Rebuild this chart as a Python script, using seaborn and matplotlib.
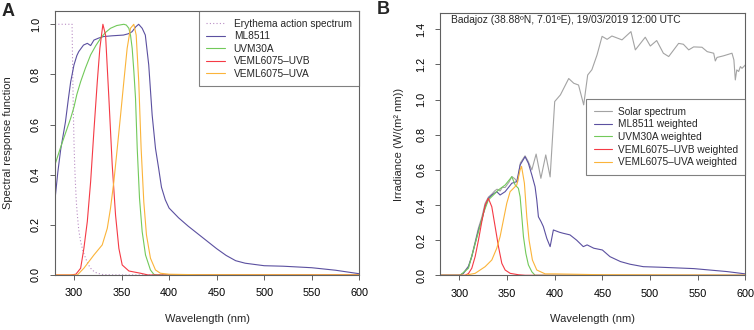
import numpy as np
import pandas as pd
import seaborn as sns
import matplotlib.pyplot as plt

# ---------------------
# Data
# ---------------------
# Panel A: spectral response functions
ery_wl = [280, 298, 298.6, 299.3, 300, 300.8, 301.7, 302.5, 303.5, 305, 307, 309.5,
          312.2, 315, 317.5, 321, 324.5, 330, 340, 400]
ery_val = [1.0, 1.0, 0.82, 0.66, 0.53, 0.43, 0.35, 0.29, 0.24, 0.18, 0.133, 0.095,
           0.067, 0.042, 0.027, 0.014, 0.007, 0.002, 0.0005, 0.0]

ml_wl = [280, 283, 286, 291, 294, 296.5, 300, 303, 305, 310, 314, 317.5, 321, 326, 331,
         340, 352, 357, 361, 365, 368, 371.7, 375, 378.6, 382.2, 385.7, 389, 392, 396,
         400, 410, 420, 425, 430, 440, 450, 460, 470, 480, 500, 520, 550, 575, 600]
ml_val = [0.30, 0.41, 0.50, 0.61, 0.70, 0.77, 0.838, 0.875, 0.891, 0.917, 0.924, 0.915,
          0.937, 0.945, 0.951, 0.954, 0.957, 0.962, 0.97, 0.99, 1.0, 0.984, 0.957, 0.838,
          0.638, 0.505, 0.426, 0.35, 0.30, 0.267, 0.228, 0.195, 0.18, 0.165, 0.135, 0.105,
          0.078, 0.057, 0.047, 0.037, 0.035, 0.029, 0.019, 0.005]

uvm_wl = [280, 286, 291, 296.5, 300, 303, 307, 312, 317.5, 323, 328, 333, 338.4, 345,
          352.4, 355, 357.7, 359.5, 361.2, 363, 364.7, 366.5, 368.9, 371.7, 375.2, 380.4,
          383.9, 386, 600]
uvm_val = [0.44, 0.51, 0.565, 0.625, 0.67, 0.72, 0.771, 0.825, 0.878, 0.915, 0.944, 0.967,
           0.984, 0.995, 1.0, 0.997, 0.984, 0.955, 0.904, 0.81, 0.705, 0.505, 0.306, 0.173,
           0.08, 0.02, 0.003, 0.0, 0.0]

uvb_wl = [280, 296, 302, 307, 310.4, 314, 317.5, 320.9, 324.5, 327.2, 330.4, 333.2, 336.7,
          340.2, 343.7, 347.2, 350.7, 357.7, 369.9, 378, 600]
uvb_val = [0.0, 0.0, 0.003, 0.027, 0.106, 0.213, 0.372, 0.572, 0.771, 0.904, 1.0, 0.957,
           0.705, 0.439, 0.239, 0.106, 0.04, 0.016, 0.007, 0.0, 0.0]

uva_wl = [280, 303.5, 310.4, 321, 329.7, 335, 338.4, 341.9, 345.5, 349, 352.4, 355.9,
          359.4, 362.9, 365.4, 368.1, 370.6, 373.4, 376.2, 380.4, 385.7, 390.9, 400, 430, 600]
uva_val = [0.0, 0.0, 0.027, 0.08, 0.12, 0.186, 0.266, 0.372, 0.505, 0.638, 0.771, 0.904,
           0.984, 1.0, 0.957, 0.771, 0.505, 0.292, 0.16, 0.067, 0.02, 0.007, 0.003, 0.001, 0.0]

# Panel B: solar spectrum and weighted irradiance
sol_wl = [280, 300, 304, 309.5, 313, 316.5, 320, 323.5, 327, 330.4, 334, 337, 339.5, 342.7,
          345, 348, 352, 355, 358, 361, 364, 368.9, 372, 376, 380.5, 385.5, 390.6, 395.2,
          400, 406, 414.7, 420, 425, 430.4, 434.6, 439, 444.4, 449.7, 455, 460, 470.6, 480,
          484.6, 495, 500.3, 507, 514, 519.6, 530, 535, 540.6, 545.8, 554.5, 560, 566.8,
          568.5, 570.3, 577, 586, 588, 589.5, 591, 593, 594.8, 596.5, 600]
sol_val = [0.0, 0.0, 0.012, 0.052, 0.11, 0.19, 0.27, 0.33, 0.41, 0.445, 0.462, 0.48, 0.49,
           0.48, 0.50, 0.50, 0.53, 0.562, 0.55, 0.53, 0.64, 0.68, 0.65, 0.60, 0.69, 0.552,
           0.685, 0.56, 0.989, 1.027, 1.12, 1.093, 1.083, 0.97, 1.14, 1.17, 1.254, 1.36,
           1.343, 1.362, 1.34, 1.387, 1.283, 1.355, 1.305, 1.336, 1.264, 1.245, 1.32, 1.315,
           1.283, 1.30, 1.298, 1.273, 1.264, 1.22, 1.24, 1.249, 1.264, 1.226, 1.112, 1.169,
           1.16, 1.188, 1.178, 1.197]

mlw_wl = [280, 300.7, 304.2, 309.5, 313, 316.5, 320, 323.5, 327, 330.4, 334, 339.2, 342.7,
          348, 355, 360.2, 363.7, 368.9, 372.4, 376, 379.4, 381.2, 382.9, 385.7, 388.1,
          391.7, 395.2, 398.6, 405, 409, 416, 423, 430, 434, 441, 450, 458, 469, 479, 493,
          510, 546, 581, 600]
mlw_val = [0.0, 0.0, 0.011, 0.049, 0.106, 0.182, 0.258, 0.315, 0.39, 0.438, 0.457, 0.476,
           0.457, 0.476, 0.524, 0.533, 0.628, 0.675, 0.637, 0.571, 0.504, 0.428, 0.333,
           0.305, 0.277, 0.21, 0.163, 0.258, 0.245, 0.239, 0.23, 0.2, 0.163, 0.173, 0.154,
           0.144, 0.106, 0.078, 0.063, 0.049, 0.046, 0.038, 0.021, 0.008]

uvmw_wl = [280, 300.7, 309.5, 314.7, 320, 325.2, 330.4, 335.7, 341, 348, 355, 358.5,
           361.9, 363.7, 365.5, 367.2, 369.7, 372.4, 376, 379.4, 600]
uvmw_val = [0.0, 0.0, 0.04, 0.144, 0.248, 0.353, 0.429, 0.457, 0.486, 0.514, 0.561, 0.514,
            0.495, 0.447, 0.333, 0.22, 0.125, 0.059, 0.02, 0.0, 0.0]

uvbw_wl = [280, 306, 309.5, 313, 316.5, 320, 323.5, 327, 330.4, 334, 337.5, 341, 344.5,
           348, 353.3, 362, 369, 600]
uvbw_val = [0.0, 0.0, 0.01, 0.04, 0.106, 0.2, 0.305, 0.4, 0.438, 0.39, 0.277, 0.163, 0.068,
            0.03, 0.011, 0.003, 0.0, 0.0]

uvaw_wl = [280, 306, 316.5, 327, 334, 339.2, 342.7, 346.2, 349.7, 353.2, 356.7, 360.2,
           363.7, 365.2, 368.2, 370.7, 373.1, 376.6, 381.2, 390, 400, 450, 600]
uvaw_val = [0.0, 0.0, 0.011, 0.049, 0.087, 0.154, 0.22, 0.315, 0.41, 0.476, 0.495, 0.514,
            0.6, 0.62, 0.524, 0.333, 0.2, 0.087, 0.03, 0.008, 0.008, 0.003, 0.0]

labels_a = ['Erythema action spectrum', 'ML8511', 'UVM30A', 'VEML6075–UVB', 'VEML6075–UVA']
labels_b = ['Solar spectrum', 'ML8511 weighted', 'UVM30A weighted',
            'VEML6075–UVB weighted', 'VEML6075–UVA weighted']
x_ticks = [300, 350, 400, 450, 500, 550, 600]
y_ticks_a = [0.0, 0.2, 0.4, 0.6, 0.8, 1.0]
y_ticks_b = [0.0, 0.2, 0.4, 0.6, 0.8, 1.0, 1.2, 1.4]
note_b = 'Badajoz (38.88ºN, 7.01ºE), 19/03/2019 12:00 UTC'

# ---------------------
# Style
# ---------------------
sns.set_theme(style="ticks")
plt.rcParams['font.family'] = ['Liberation Sans', 'DejaVu Sans']
plt.rcParams['xtick.labelsize'] = 7.8
plt.rcParams['ytick.labelsize'] = 7.8
plt.rcParams['axes.labelsize'] = 8
plt.rcParams['legend.fontsize'] = 7.3

c_ery = '#b98dc4'
c_ml = '#5b50a0'
c_uvm = '#72c95a'
c_uvb = '#f53a45'
c_uva = '#fbb43a'
c_sol = '#a3a3a3'
c_box = '#606060'


def line(ax, wl, val, color, label, ls='-'):
    """Draw one spectrum as a thin line"""
    sns.lineplot(x=wl, y=val, ax=ax, color=color, lw=0.8, linestyle=ls,
                 label=label, sort=False, estimator=None)


def style_axes(ax, yticks, ymax, ylabel, ypad):
    """R base-graphics look: full box, outward ticks, rotated y labels"""
    ax.set_xlim(280, 600)
    ax.set_ylim(0, ymax)
    ax.set_xticks(x_ticks)
    ax.set_yticks(yticks)
    ax.set_yticklabels([f'{v:.1f}' for v in yticks], rotation=90, va='center')
    for s in ax.spines.values():
        s.set_color(c_box)
        s.set_linewidth(0.8)
    ax.tick_params(direction='out', length=3.6, width=0.7, color=c_box,
                   labelcolor='black')
    ax.tick_params(axis='x', pad=6)
    ax.tick_params(axis='y', pad=6.5)
    ax.set_xlabel('Wavelength (nm)', labelpad=11)
    ax.set_ylabel(ylabel, labelpad=ypad)


def style_legend(leg):
    """Square grey frame like R legend()"""
    leg.get_frame().set_edgecolor(c_box)
    leg.get_frame().set_linewidth(0.8)


fig = plt.figure(figsize=(7.54, 3.30), dpi=100)
ax_a = fig.add_axes([0.0729, 0.1667, 0.4036, 0.80])
ax_b = fig.add_axes([0.5840, 0.1658, 0.4045, 0.7957])

# ---------------------
# Panel A
# ---------------------
line(ax_a, ery_wl, ery_val, c_ery, labels_a[0], ls=(0, (1, 2)))
line(ax_a, ml_wl, ml_val, c_ml, labels_a[1])
line(ax_a, uvm_wl, uvm_val, c_uvm, labels_a[2])
line(ax_a, uvb_wl, uvb_val, c_uvb, labels_a[3])
line(ax_a, uva_wl, uva_val, c_uva, labels_a[4])
style_axes(ax_a, y_ticks_a, 1.053, 'Spectral response function', 13)
style_legend(ax_a.legend(loc='upper right', bbox_to_anchor=(1, 1), frameon=True,
                         fancybox=False, borderpad=0.75, labelspacing=0.25,
                         handlelength=1.8, handletextpad=0.9, borderaxespad=0))

# ---------------------
# Panel B
# ---------------------
line(ax_b, sol_wl, sol_val, c_sol, labels_b[0])
line(ax_b, mlw_wl, mlw_val, c_ml, labels_b[1])
line(ax_b, uvmw_wl, uvmw_val, c_uvm, labels_b[2])
line(ax_b, uvbw_wl, uvbw_val, c_uvb, labels_b[3])
line(ax_b, uvaw_wl, uvaw_val, c_uva, labels_b[4])
style_axes(ax_b, y_ticks_b, 1.4946, 'Irradiance (W/(m² nm))', 9)
style_legend(ax_b.legend(loc='upper right', bbox_to_anchor=(1, 0.670), frameon=True,
                         fancybox=False, borderpad=0.75, labelspacing=0.25,
                         handlelength=1.8, handletextpad=0.55, borderaxespad=0))
ax_b.text(0.035, 0.972, note_b, transform=ax_b.transAxes, fontsize=7.4,
          ha='left', va='center')

# Panel letters
fig.text(0.002, 0.992, 'A', fontsize=13, fontweight='bold', ha='left', va='top')
fig.text(0.5, 0.997, 'B', fontsize=13, fontweight='bold', ha='left', va='top')

fig.savefig('out.png', dpi=100)
